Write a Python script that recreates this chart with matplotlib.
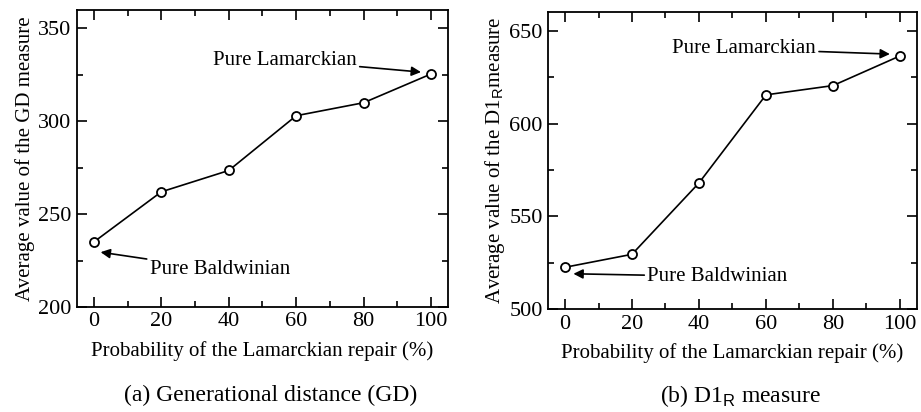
import numpy as np
import matplotlib
matplotlib.use('Agg')
import matplotlib.pyplot as plt
from matplotlib.ticker import MultipleLocator

plt.rcParams['font.family'] = ['Liberation Serif', 'DejaVu Serif']
plt.rcParams['mathtext.fontset'] = 'custom'
plt.rcParams['mathtext.rm'] = 'Liberation Sans'

# 램마르크 보정 확률 (%)
prob = [0, 20, 40, 60, 80, 100]
# GD 평균값
gd_avg = [235, 262, 273.5, 303, 310, 325.5]
# D1_R 평균값
d1r_avg = [522.5, 529.5, 568, 615.5, 620.5, 636.5]

xlabel = 'Probability of the Lamarckian repair (%)'
ylabels = ['Average value of the GD measure', 'Average value of the D1$_{\\mathrm{R}}$measure']
captions = ['(a) Generational distance (GD)', '(b) D1$_{\\mathrm{R}}$ measure']

fig = plt.figure(figsize=(9.21, 4.12), dpi=100)
ax1 = fig.add_axes([0.0836, 0.255, 0.4028, 0.721])
ax2 = fig.add_axes([0.5953, 0.250, 0.4000, 0.720])

fs = 15

def setup(ax, values, ylim, ylab, cap):
    ax.plot(prob, values, color='black', lw=1.2, marker='o', ms=6.5,
            mfc='white', mec='black', mew=1.3, zorder=3)
    ax.set_xlim(-5, 105)
    ax.set_ylim(*ylim)
    ax.xaxis.set_major_locator(MultipleLocator(20))
    ax.xaxis.set_minor_locator(MultipleLocator(10))
    ax.yaxis.set_major_locator(MultipleLocator(50))
    ax.yaxis.set_minor_locator(MultipleLocator(25))
    ax.tick_params(which='both', direction='in', top=True, right=True,
                   labelsize=16, width=1.2, pad=4)
    ax.tick_params(which='major', length=7)
    ax.tick_params(which='minor', length=4)
    for s in ax.spines.values():
        s.set_linewidth(1.3)
    ax.set_xlabel(xlabel, fontsize=fs, labelpad=7)
    ax.set_ylabel(ylab, fontsize=fs, labelpad=2)
    # 그림 캡션
    pos = ax.get_position()
    fig.text((pos.x0 + pos.x1) / 2 + 0.009, 0.039, cap, ha='center',
             va='center', fontsize=17)

setup(ax1, gd_avg, (200, 360), ylabels[0], captions[0])
setup(ax2, d1r_avg, (500, 660), ylabels[1], captions[1])

arrow = dict(arrowstyle='-|>', color='black', lw=1.2, mutation_scale=14,
             shrinkA=0, shrinkB=0)

ax1.annotate('Pure Lamarckian', xy=(97, 326.5), xytext=(78, 333),
             fontsize=fs, ha='right', va='center', arrowprops=arrow)
ax1.annotate('Pure Baldwinian', xy=(2, 229.5), xytext=(16.5, 220),
             fontsize=fs, ha='left', va='center', arrowprops=arrow)
ax2.annotate('Pure Lamarckian', xy=(97, 637.5), xytext=(75, 640.3),
             fontsize=fs, ha='right', va='center', arrowprops=arrow)
ax2.annotate('Pure Baldwinian', xy=(2.5, 519), xytext=(24.5, 517.5),
             fontsize=fs, ha='left', va='center', arrowprops=arrow)

fig.savefig('out.png', dpi=100)
